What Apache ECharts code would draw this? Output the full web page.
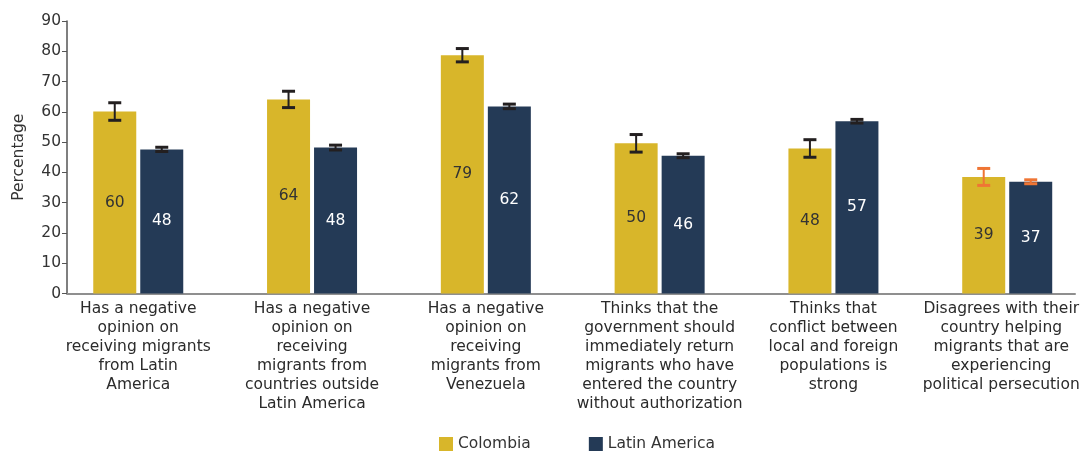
<!DOCTYPE html>
<html>
<head>
<meta charset="utf-8">
<script src="https://cdn.jsdelivr.net/npm/echarts@6/dist/echarts.min.js"></script>
<style>
html,body{margin:0;padding:0;background:#fff;}
#chart{width:1084px;height:451px;}
</style>
</head>
<body>
<div id="chart"></div>
<script>
// ---- data ----
const categories = [
  "Has a negative\nopinion on\nreceiving migrants\nfrom Latin\nAmerica",
  "Has a negative\nopinion on\nreceiving\nmigrants from\ncountries outside\nLatin America",
  "Has a negative\nopinion on\nreceiving\nmigrants from\nVenezuela",
  "Thinks that the\ngovernment should\nimmediately return\nmigrants who have\nentered the country\nwithout authorization",
  "Thinks that\nconflict between\nlocal and foreign\npopulations is\nstrong",
  "Disagrees with their\ncountry helping\nmigrants that are\nexperiencing\npolitical persecution"
];
const seriesNames = ["Colombia", "Latin America"];
const colombia = [60.1, 64.1, 78.7, 49.6, 47.9, 38.5];
const latinAmerica = [47.6, 48.2, 61.8, 45.5, 56.9, 36.9];
const colombiaErr = [2.9, 2.7, 2.2, 2.9, 2.9, 2.8];
const latinAmericaErr = [0.7, 0.8, 0.75, 0.65, 0.6, 0.65];
const yTicks = [0, 10, 20, 30, 40, 50, 60, 70, 80, 90];

// ---- style ----
const FONT = "DejaVu Sans";
const FS = 15.5;
const COL_Y = "#d8b62a";
const COL_N = "#243a56";
const ERR_DARK = "#231f20";
const ERR_HL = "#ef7534";
const HL_INDEX = 5;
const BAR_W = 43;
const BAR_GAP_PX = 4;

const chart = echarts.init(document.getElementById('chart'), null, {renderer: 'canvas'});

const catIdx = categories.map((_, i) => i);
function pairs(vals) { return vals.map((v, i) => [i, v]); }

function errSeries(name, vals, errs, sign) {
  const data = vals.map((v, i) => [i, v - errs[i], v + errs[i]]);
  return {
    type: 'custom',
    name: name + ' err',
    z: 10,
    silent: true,
    data: data,
    encode: {x: 0, y: [1, 2]},
    renderItem: function (params, api) {
      const x = api.value(0);
      const lo = api.coord([x, api.value(1)]);
      const hi = api.coord([x, api.value(2)]);
      const cx = lo[0] + sign * (BAR_W + BAR_GAP_PX) / 2;
      const half = 6.5;
      const color = (params.dataIndex === HL_INDEX) ? ERR_HL : ERR_DARK;
      const st = {stroke: color, lineWidth: 3};
      return {
        type: 'group',
        children: [
          {type: 'line', shape: {x1: cx, y1: lo[1], x2: cx, y2: hi[1]}, style: {stroke: color, lineWidth: 2}},
          {type: 'line', shape: {x1: cx - half, y1: lo[1], x2: cx + half, y2: lo[1]}, style: st},
          {type: 'line', shape: {x1: cx - half, y1: hi[1], x2: cx + half, y2: hi[1]}, style: st}
        ]
      };
    }
  };
}

const labelRich = {
  n: {fontFamily: FONT, fontSize: FS, lineHeight: 19, color: '#2b2b2b'},
  s: {fontFamily: FONT, fontSize: FS, lineHeight: 19, color: '#2b2b2b', padding: [0, 12, 0, 0]}
};

const option = {
  animation: false,
  textStyle: {fontFamily: FONT},
  grid: {left: 67, right: 9, top: 21, bottom: 157.5, containLabel: false, outerBoundsMode: 'none'},
  legend: {
    data: seriesNames,
    top: 431,
    left: 434,
    icon: 'rect',
    itemWidth: 14,
    itemHeight: 14,
    itemGap: 58,
    textStyle: {fontFamily: FONT, fontSize: FS, color: '#333'}
  },
  xAxis: {
    type: 'value',
    min: -0.41,
    max: 5.39,
    splitLine: {show: false},
    axisTick: {show: false},
    axisLine: {show: true, onZero: false, lineStyle: {color: '#8f8f8f', width: 2}},
    axisLabel: {
      customValues: catIdx,
      formatter: function (v) {
        const i = Math.round(v);
        const key = (i === categories.length - 1) ? 's' : 'n';
        return (categories[i] || '').split('\n').map(l => '{' + key + '|' + l + '}').join('\n');
      },
      rich: labelRich,
      fontFamily: FONT,
      fontSize: FS,
      lineHeight: 19,
      color: '#2b2b2b',
      margin: 6,
      align: 'center'
    }
  },
  yAxis: {
    type: 'value',
    min: 0,
    max: 90,
    interval: 10,
    name: 'Percentage',
    nameLocation: 'middle',
    nameGap: 40,
    nameTextStyle: {fontFamily: FONT, fontSize: FS, color: '#333'},
    splitLine: {show: false},
    axisLine: {show: true, onZero: false, lineStyle: {color: '#555', width: 1.5}},
    axisTick: {show: true, length: 5, lineStyle: {color: '#555'}},
    axisLabel: {
      fontFamily: FONT, fontSize: FS, color: '#333', margin: 6,
      customValues: yTicks
    }
  },
  series: [
    {
      name: seriesNames[0],
      type: 'bar',
      data: pairs(colombia),
      barWidth: BAR_W,
      barGap: (BAR_GAP_PX / BAR_W * 100) + '%',
      itemStyle: {color: COL_Y},
      label: {show: true, position: 'inside', fontFamily: FONT, fontSize: FS, color: '#333',
        formatter: p => Math.round(p.value[1])}
    },
    {
      name: seriesNames[1],
      type: 'bar',
      data: pairs(latinAmerica),
      barWidth: BAR_W,
      barGap: (BAR_GAP_PX / BAR_W * 100) + '%',
      itemStyle: {color: COL_N},
      label: {show: true, position: 'inside', fontFamily: FONT, fontSize: FS, color: '#fff',
        formatter: p => Math.round(p.value[1])}
    },
    errSeries(seriesNames[0], colombia, colombiaErr, -1),
    errSeries(seriesNames[1], latinAmerica, latinAmericaErr, 1)
  ]
};
chart.setOption(option);
</script>
</body>
</html>
